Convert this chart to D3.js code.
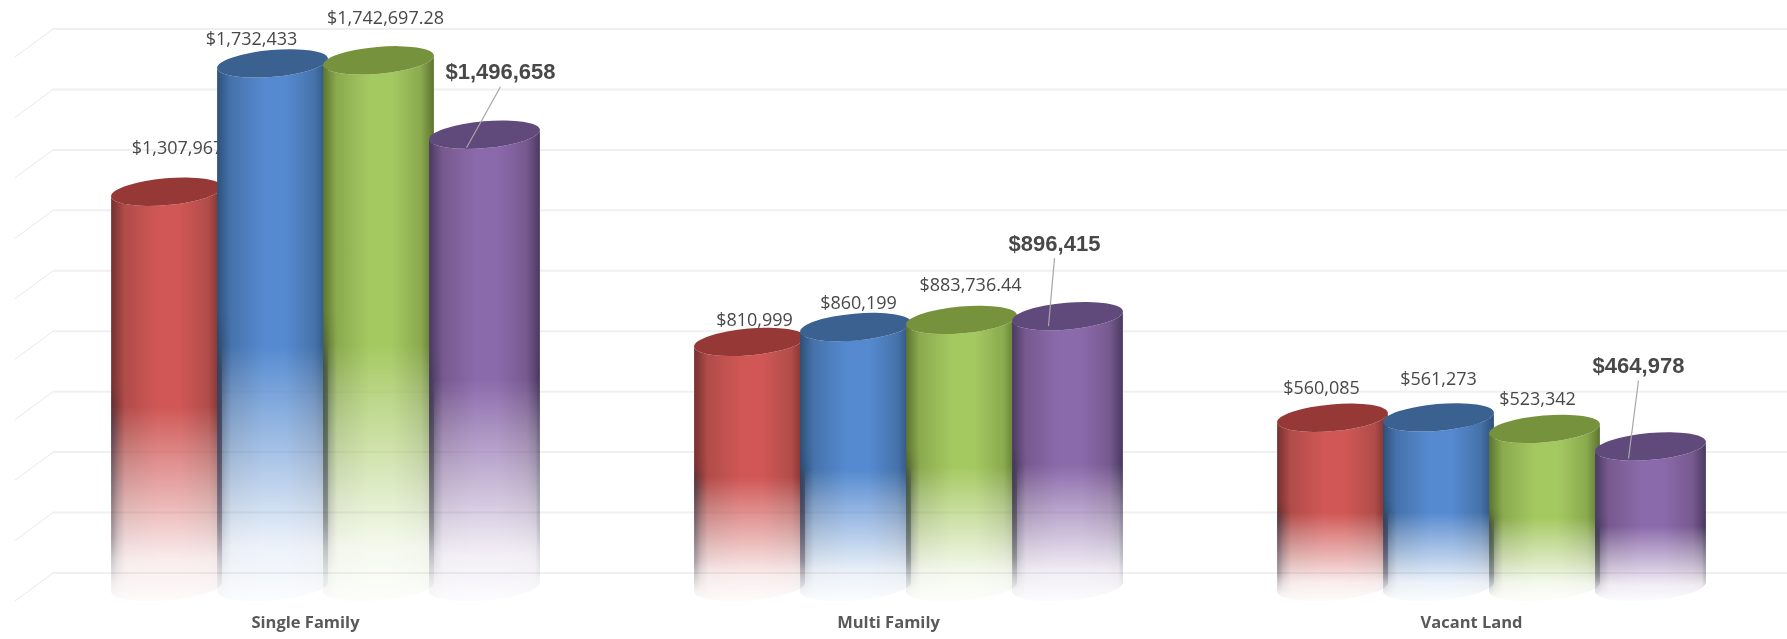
<!DOCTYPE html>
<html>
<head>
<meta charset="utf-8">
<script src="https://cdn.jsdelivr.net/npm/d3@7"></script>
<style>
  html, body { margin: 0; padding: 0; background: #fff; overflow: hidden; }
  svg { filter: blur(0.4px); }
  text { fill: #484848; }
  .tick text { fill: #595959; }
</style>
</head>
<body>
<div id="chart-area"></div>
<script>
var categories = ["Single Family", "Multi Family", "Vacant Land"];
var seriesNames = ["s1", "s2", "s3", "s4"];

// values per series, one per category
var series1 = [1307967, 810999, 560085];
var series2 = [1732433, 860199, 561273];
var series3 = [1742697.28, 883736.44, 523342];
var series4 = [1496658, 896415, 464978];
var allSeries = [series1, series2, series3, series4];

var labels1 = ["$1,307,967", "$810,999", "$560,085"];
var labels2 = ["$1,732,433", "$860,199", "$561,273"];
var labels3 = ["$1,742,697.28", "$883,736.44", "$523,342"];
var labels4 = ["$1,496,658", "$896,415", "$464,978"];
var allLabels = [labels1, labels2, labels3, labels4];

var yTicks = [0, 200000, 400000, 600000, 800000, 1000000, 1200000, 1400000, 1600000, 1800000];

// label placement relative to the top of each cylinder
var labelOffsets = [
    [[11, -44], [5, -22], [-11, -30]],
    [[-21, -25], [3, -24], [0, -39]],
    [[7, -43], [9, -35], [-7, -30]],
    [[16, -63], [-13, -73], [-12, -81]]
];
var leaderEnds = [[-18, 13], [-19, 10], [-22, 12]];

var colors = [
    { edge: "#74302e", mid: "#b04c49", light: "#d05755", top: "#953836" },
    { edge: "#2c5078", mid: "#4672ab", light: "#558ad0", top: "#3a618f" },
    { edge: "#5c7430", mid: "#8aaa4e", light: "#a5c961", top: "#76923c" },
    { edge: "#493a60", mid: "#77598f", light: "#8b6aab", top: "#604a7b" }
];

var width = 1787, height = 639;
var depth = { x: 38, y: 28 };
var tiltDeg = 5;
var tilt = tiltDeg * Math.PI / 180;

var svg = d3.select("#chart-area")
    .append("svg")
    .attr("width", width)
    .attr("height", height)
    .style("display", "block");

var defs = svg.append("defs");

// Scales
var x0 = d3.scaleBand().domain(categories).range([32, 1781]);
var x1 = d3.scaleBand().domain(seriesNames).range([0, x0.bandwidth()]).paddingOuter(0.75);
var y = d3.scaleLinear().domain([0, 1800000]).range([573, 29]);

// Side shading
colors.forEach(function(c, i) {
    var grad = defs.append("linearGradient")
        .attr("id", "side" + i)
        .attr("x1", 0).attr("x2", 1).attr("y1", 0).attr("y2", 0);
    [[0, c.edge], [0.12, c.mid], [0.42, c.light], [0.62, c.light], [0.88, c.mid], [1, c.edge]].forEach(function(s) {
        grad.append("stop").attr("offset", s[0]).attr("stop-color", s[1]);
    });
});

var edgeGrad = defs.append("linearGradient")
    .attr("id", "edgeShade")
    .attr("x1", 0).attr("x2", 1).attr("y1", 0).attr("y2", 0);
[[0, 0.5], [0.06, 0.16], [0.13, 0], [0.96, 0], [1, 0.25]].forEach(function(s) {
    edgeGrad.append("stop").attr("offset", s[0]).attr("stop-color", "#33334a").attr("stop-opacity", s[1]);
});

// Fade masks: the body fades from about halfway, the dark edge a bit later
function fadeMask(id, stops) {
    var g = defs.append("linearGradient")
        .attr("id", id + "Grad")
        .attr("x1", 0).attr("x2", 0).attr("y1", 0).attr("y2", 1);
    stops.forEach(function(s) {
        g.append("stop").attr("offset", s[0]).attr("stop-color", "#fff").attr("stop-opacity", s[1]);
    });
    defs.append("mask")
        .attr("id", id)
        .attr("maskContentUnits", "objectBoundingBox")
        .append("rect")
        .attr("width", 1).attr("height", 1)
        .attr("fill", "url(#" + id + "Grad)");
}
fadeMask("bodyFade", [[0, 1], [0.53, 1], [0.64, 0.72], [0.77, 0.42], [0.9, 0.11], [1, 0.025]]);
fadeMask("edgeFade", [[0, 0], [0.47, 0], [0.57, 1], [0.85, 0.7], [0.96, 0.05], [1, 0]]);

// Gridlines on the back wall and the left wall
var grid = svg.append("g").attr("class", "grid");
grid.selectAll(".back").data(yTicks).enter().append("line")
    .attr("class", "back")
    .attr("x1", 53).attr("x2", width)
    .attr("y1", function(d) { return y(d); })
    .attr("y2", function(d) { return y(d); })
    .attr("stroke", "#f0f0f0")
    .attr("stroke-width", 2);
grid.selectAll(".side").data(yTicks).enter().append("line")
    .attr("class", "side")
    .attr("x1", 53).attr("x2", 53 - depth.x)
    .attr("y1", function(d) { return y(d); })
    .attr("y2", function(d) { return y(d) + depth.y; })
    .attr("stroke", "#e8e8e8")
    .attr("stroke-width", 1);

// Cylinders
var step = x1.bandwidth();
var rx = step * 0.525, ry = 13.4;
var dx = rx * Math.cos(tilt), dy = rx * Math.sin(tilt);
var baseY = y(0) + depth.y / 2;

function sidePath(cx, top) {
    return "M" + (cx - dx) + "," + (top + dy)
        + "L" + (cx - dx) + "," + (baseY + dy)
        + "A" + rx + "," + ry + " " + (-tiltDeg) + " 0 0 " + (cx + dx) + "," + (baseY - dy)
        + "L" + (cx + dx) + "," + (top - dy)
        + "A" + rx + "," + ry + " " + (-tiltDeg) + " 0 1 " + (cx - dx) + "," + (top + dy) + "Z";
}

var plot = svg.append("g").attr("class", "bars");

categories.forEach(function(cat, ci) {
    seriesNames.forEach(function(name, si) {
        var value = allSeries[si][ci];
        var cx = x0(cat) + x1(name) + step / 2 + 2;
        var top = y(value) + depth.y / 2;
        var off = labelOffsets[si][ci];
        var bar = plot.append("g").datum(value);

        bar.append("path")
            .attr("d", sidePath(cx, top))
            .attr("fill", "url(#side" + si + ")")
            .attr("mask", "url(#bodyFade)");
        bar.append("path")
            .attr("d", sidePath(cx, top))
            .attr("fill", "url(#edgeShade)")
            .attr("mask", "url(#edgeFade)");
        bar.append("ellipse")
            .attr("rx", rx).attr("ry", ry)
            .attr("transform", "translate(" + cx + "," + top + ") rotate(" + (-tiltDeg) + ")")
            .attr("fill", colors[si].top);

        // leader line for the last series, labels sit under the next bar
        if (si === 3) {
            var end = leaderEnds[ci];
            plot.append("line")
                .attr("x1", cx + off[0])
                .attr("y1", top + off[1] + 15)
                .attr("x2", cx + end[0])
                .attr("y2", top + end[1])
                .attr("stroke", "#a6a6a6")
                .attr("stroke-width", 1.2);
        }
        plot.append("text")
            .attr("x", cx + off[0])
            .attr("y", top + off[1])
            .attr("dy", "0.35em")
            .attr("text-anchor", "middle")
            .style("font-family", si === 3 ? "'Liberation Sans'" : "'Open Sans'")
            .style("font-weight", si === 3 ? "bold" : "normal")
            .style("font-size", si === 3 ? "22px" : "18px")
            .text(allLabels[si][ci]);
    });
});

// Category axis
var xAxisCall = d3.axisBottom(x0).tickSize(0).tickPadding(0);
var xAxis = svg.append("g")
    .attr("class", "x axis")
    .attr("transform", "translate(" + (-depth.x / 2 + 1) + ",616)")
    .call(xAxisCall);
xAxis.select(".domain").remove();
xAxis.selectAll("text")
    .style("font-family", "'Open Sans'")
    .style("font-weight", "bold")
    .style("font-size", "16.5px");
</script>
</body>
</html>
